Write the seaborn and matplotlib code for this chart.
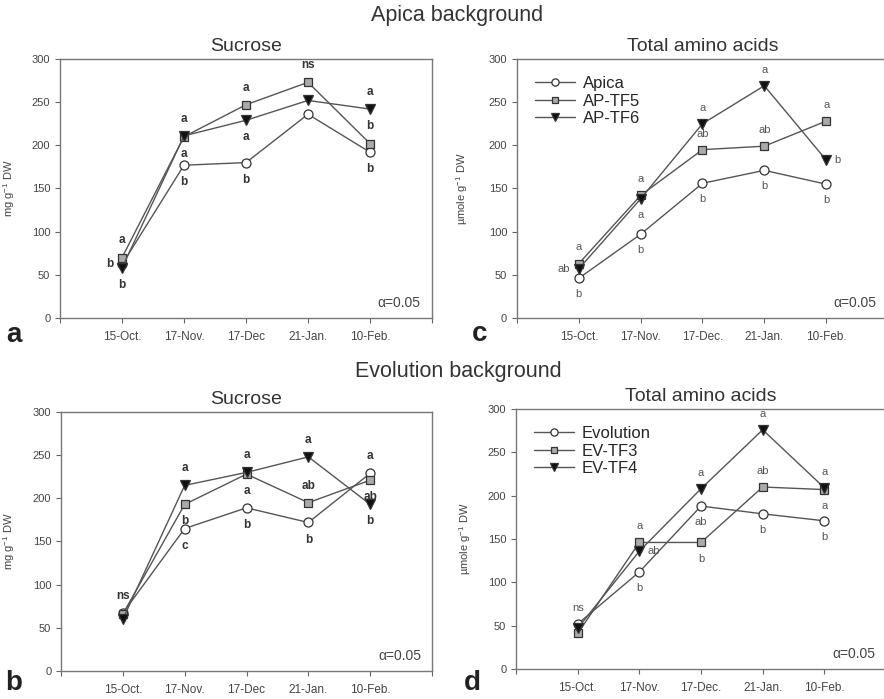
import pandas as pd
import seaborn as sns
import matplotlib.pyplot as plt

sns.set_theme(style="ticks")
plt.rcParams["font.family"] = ["Liberation Sans", "DejaVu Sans"]
plt.rcParams["mathtext.default"] = "regular"

dates = ["15-Oct.", "17-Nov.", "17-Dec", "21-Jan.", "10-Feb."]
dates_aa = ["15-Oct.", "17-Nov.", "17-Dec.", "21-Jan.", "10-Feb."]

# Apica background
apica_names = ["Apica", "AP-TF5", "AP-TF6"]
suc_apica = [62, 177, 180, 236, 192]
suc_aptf5 = [70, 210, 247, 273, 202]
suc_aptf6 = [58, 211, 229, 252, 242]
aa_apica = [46, 97, 156, 171, 155]
aa_aptf5 = [63, 142, 195, 199, 228]
aa_aptf6 = [57, 138, 225, 269, 183]

# Evolution background
evo_names = ["Evolution", "EV-TF3", "EV-TF4"]
suc_evo = [67, 165, 189, 172, 229]
suc_evtf3 = [66, 193, 228, 195, 221]
suc_evtf4 = [60, 215, 230, 248, 193]
aa_evo = [52, 112, 188, 179, 171]
aa_evtf3 = [41, 146, 146, 210, 207]
aa_evtf4 = [47, 136, 208, 276, 209]

# significance letters: (series index, date index, text, side)
letters_a = [(1, 0, "a", "above"), (0, 0, "b", "left"), (2, 0, "b", "below"),
             (2, 1, "a", "above"), (1, 1, "a", "below"), (0, 1, "b", "below"),
             (1, 2, "a", "above"), (2, 2, "a", "below"), (0, 2, "b", "below"),
             (1, 3, "ns", "above"),
             (2, 4, "a", "above"), (1, 4, "b", "above"), (0, 4, "b", "below")]
letters_c = [(1, 0, "a", "above"), (2, 0, "ab", "left"), (0, 0, "b", "below"),
             (1, 1, "a", "above"), (2, 1, "a", "below"), (0, 1, "b", "below"),
             (2, 2, "a", "above"), (1, 2, "ab", "above"), (0, 2, "b", "below"),
             (2, 3, "a", "above"), (1, 3, "ab", "above"), (0, 3, "b", "below"),
             (1, 4, "a", "above"), (2, 4, "b", "right"), (0, 4, "b", "below")]
letters_b = [(0, 0, "ns", "above"),
             (2, 1, "a", "above"), (1, 1, "b", "below"), (0, 1, "c", "below"),
             (2, 2, "a", "above"), (1, 2, "a", "below"), (0, 2, "b", "below"),
             (2, 3, "a", "above"), (1, 3, "ab", "above"), (0, 3, "b", "below"),
             (0, 4, "a", "above"), (1, 4, "ab", "below"), (2, 4, "b", "below")]
letters_d = [(0, 0, "ns", "above"),
             (1, 1, "a", "above"), (2, 1, "ab", "right"), (0, 1, "b", "below"),
             (2, 2, "a", "above"), (0, 2, "ab", "below"), (1, 2, "b", "below"),
             (2, 3, "a", "above"), (1, 3, "ab", "above"), (0, 3, "b", "below"),
             (2, 4, "a", "above"), (1, 4, "a", "below"), (0, 4, "b", "below")]

line_col = "#555555"
markers = ["o", "s", "v"]
faces = ["white", "#aaaaaa", "#111111"]
offsets = {"above": (0, 8, "center", "bottom"), "below": (0, -8, "center", "top"),
           "left": (-6, 0, "right", "center"), "right": (6, 0, "left", "center")}


def draw_panel(ax, names, series, xlabels, letters, ylabel, title, ylab_x,
               bold_letters, legend):
    df = pd.DataFrame({
        "date": xlabels * len(names),
        "value": [v for s in series for v in s],
        "line": [n for n in names for _ in xlabels],
    })
    for i, name in enumerate(names):
        sub = df[df["line"] == name]
        sns.lineplot(data=sub, x="date", y="value", ax=ax, color=line_col, lw=1.0,
                     marker=markers[i], markersize=6.5 if i != 1 else 6,
                     markerfacecolor=faces[i], markeredgecolor="#333333",
                     markeredgewidth=0.9, label=name, legend=False, sort=False)
    for si, di, txt, side in letters:
        dx, dy, ha, va = offsets[side]
        ax.annotate(txt, (di, series[si][di]), xytext=(dx, dy), textcoords="offset points",
                    ha=ha, va=va, fontsize=8.5 if bold_letters else 8,
                    fontweight="bold" if bold_letters else "normal",
                    color="#333333" if bold_letters else "#555555")
    ax.set_xlim(-1, 5)
    ax.set_ylim(0, 300)
    ax.set_xticks(range(-1, 6))
    ax.set_xticklabels([""] + xlabels + [""])
    ax.set_yticks(range(0, 301, 50))
    ax.tick_params(direction="out", length=3.5, width=0.8, colors="#666666",
                   labelcolor="#444444", labelsize=8)
    ax.tick_params(axis="x", labelsize=8.5, pad=6)
    for sp in ax.spines.values():
        sp.set_visible(True)
        sp.set_color("#777777")
        sp.set_linewidth(1.0)
    ax.set_xlabel("")
    ax.set_ylabel(ylabel, fontsize=8, color="#444444")
    ax.yaxis.set_label_coords(ylab_x, 0.5)
    ax.set_title(title, fontsize=14, color="#333333", pad=6)
    ax.text(0.97, 0.058, "\u03b1=0.05", transform=ax.transAxes, ha="right", va="center",
            fontsize=10, color="#444444")
    if legend:
        ax.legend(loc="upper left", bbox_to_anchor=(0.03, 0.96), frameon=False,
                  fontsize=12, handlelength=2.4, handletextpad=0.5, labelspacing=0.15,
                  borderaxespad=0, markerscale=0.8)


fig = plt.figure(figsize=(8.84, 6.99), dpi=100)
ax_a = fig.add_axes([0.0679, 0.5451, 0.4208, 0.3705])
ax_c = fig.add_axes([0.5848, 0.5451, 0.4197, 0.3705])
ax_b = fig.add_axes([0.0690, 0.0401, 0.4197, 0.3705])
ax_d = fig.add_axes([0.5837, 0.0429, 0.4186, 0.3720])

draw_panel(ax_a, apica_names, [suc_apica, suc_aptf5, suc_aptf6], dates, letters_a,
           "mg g$^{-1}$ DW", "Sucrose", -0.116, True, False)
draw_panel(ax_c, apica_names, [aa_apica, aa_aptf5, aa_aptf6], dates_aa, letters_c,
           "\u00b5mole g$^{-1}$ DW", "Total amino acids", -0.127, False, True)
draw_panel(ax_b, evo_names, [suc_evo, suc_evtf3, suc_evtf4], dates, letters_b,
           "mg g$^{-1}$ DW", "Sucrose", -0.119, True, False)
draw_panel(ax_d, evo_names, [aa_evo, aa_evtf3, aa_evtf4], dates_aa, letters_d,
           "\u00b5mole g$^{-1}$ DW", "Total amino acids", -0.116, False, True)

fig.text(0.517, 0.9785, "Apica background", ha="center", va="center", fontsize=15.5,
         color="#333333")
fig.text(0.519, 0.468, "Evolution background", ha="center", va="center", fontsize=15.5,
         color="#333333")
for x, y, t in [(0.016, 0.521, "a"), (0.543, 0.522, "c"), (0.016, 0.023, "b"), (0.534, 0.023, "d")]:
    fig.text(x, y, t, ha="center", va="center", fontsize=20, fontweight="bold", color="#222222")

fig.savefig("out.png", dpi=100)
